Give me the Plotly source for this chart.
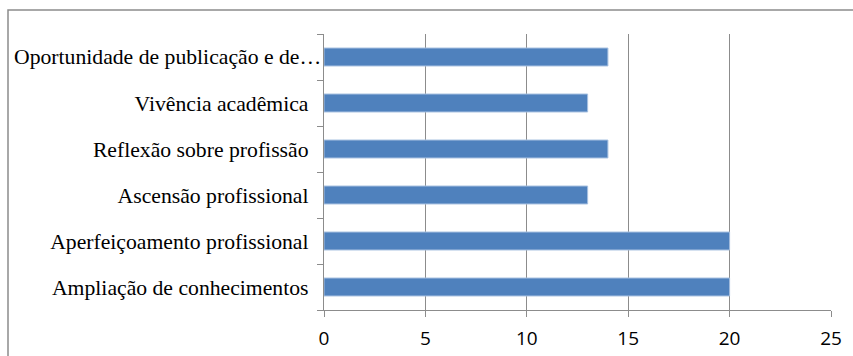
import plotly.graph_objects as go

categories = [
    "Ampliação de conhecimentos",
    "Aperfeiçoamento profissional",
    "Ascensão profissional",
    "Reflexão sobre profissão",
    "Vivência acadêmica",
    "Oportunidade de publicação e de…",
]
values = [20, 20, 13, 14, 13, 14]
x_ticks = [0, 5, 10, 15, 20, 25]

W, H = 853, 356
L, R, T, B = 324, 22, 34, 46
pw = W - L - R
ph = H - T - B

label_font = dict(family="Liberation Serif, Times New Roman, serif", size=21.7, color="#000000")

# the last (truncated) label is drawn closer to the axis, as in the original
tick_text = categories[:-1] + [""]

fig = go.Figure(
    go.Bar(
        y=categories,
        x=values,
        orientation="h",
        marker=dict(color="#4F81BD", line=dict(color="#A7C0E0", width=1)),
        hoverinfo="skip",
    )
)

fig.update_layout(
    width=W,
    height=H,
    margin=dict(l=L, r=R, t=T, b=B, pad=0),
    paper_bgcolor="white",
    plot_bgcolor="white",
    bargap=0.61,
    showlegend=False,
    xaxis=dict(
        range=[0, 25],
        tickvals=x_ticks,
        ticktext=[str(v) for v in x_ticks],
        showgrid=True,
        gridcolor="#8C8C8C",
        gridwidth=1.3,
        zeroline=False,
        showline=True,
        linecolor="#8C8C8C",
        linewidth=1.3,
        ticks="outside",
        ticklen=6,
        tickcolor="#8C8C8C",
        tickwidth=1.3,
        ticklabelstandoff=5,
        automargin=False,
        tickfont=dict(family="Open Sans, Liberation Sans, sans-serif", size=19, color="#000000"),
        fixedrange=True,
    ),
    yaxis=dict(
        type="category",
        categoryorder="array",
        categoryarray=categories,
        tickvals=categories,
        ticktext=tick_text,
        showgrid=False,
        zeroline=False,
        showline=True,
        linecolor="#8C8C8C",
        linewidth=1.3,
        ticks="outside",
        tickson="boundaries",
        ticklen=6,
        tickcolor="#8C8C8C",
        tickwidth=1.3,
        ticklabelstandoff=10,
        automargin=False,
        tickfont=label_font,
        fixedrange=True,
    ),
    annotations=[
        dict(
            text=categories[-1],
            xref="paper",
            yref="y",
            x=(323 - L) / pw,
            y=categories[-1],
            xanchor="right",
            yanchor="middle",
            showarrow=False,
            font=label_font,
        )
    ],
    shapes=[
        dict(
            type="rect",
            xref="paper",
            yref="paper",
            x0=(8 - L) / pw,
            x1=(W + 20 - L) / pw,
            y0=-(H + 20 - (H - B)) / ph,
            y1=((H - B) - 10) / ph,
            line=dict(color="#8C8C8C", width=1.5),
            fillcolor="rgba(0,0,0,0)",
            layer="below",
        )
    ],
)

fig.write_html("out.html")
